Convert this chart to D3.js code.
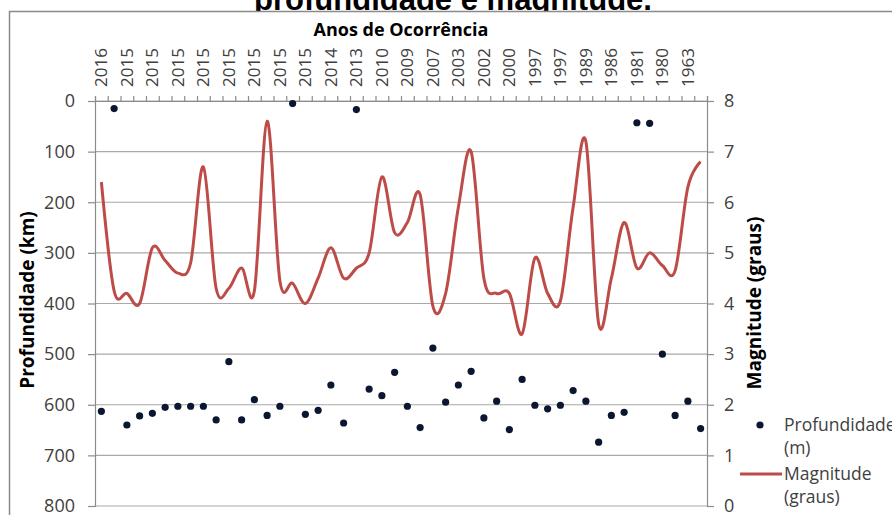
<!DOCTYPE html>
<html>
<head>
<meta charset="utf-8">
<script src="https://cdn.jsdelivr.net/npm/d3@7"></script>
<style>
  body { margin: 0; background: #fff; }
  svg text { font-family: "Open Sans", "DejaVu Sans", sans-serif; }
</style>
</head>
<body>
<svg id="chart" width="892" height="515"></svg>
<script>
'use strict';

// year labels shown on every second category (top axis)
var yearLabels = ['2016', '2015', '2015', '2015', '2015', '2015', '2015', '2015', '2015',
	'2014', '2013', '2010', '2009', '2007', '2003', '2002', '2000', '1997', '1997',
	'1989', '1986', '1981', '1980', '1963'];

// depth per event (km)
var depth = [613, 15, 640, 622, 617, 605, 603, 603, 603, 630, 515, 630, 590, 621, 603, 5,
	619, 611, 561, 636, 17, 569, 582, 536, 603, 645, 488, 595, 561, 534, 626, 593,
	649, 550, 601, 608, 601, 572, 593, 674, 621, 615, 43, 44, 500, 621, 593, 647];

// magnitude per event (graus)
var magnitude = [6.4, 4.25, 4.2, 4.0, 5.1, 4.85, 4.6, 4.8, 6.7, 4.3, 4.3, 4.7, 4.25, 7.6, 4.45, 4.4,
	4.0, 4.5, 5.1, 4.5, 4.7, 5.0, 6.5, 5.4, 5.6, 6.15, 3.95, 4.2, 5.9, 7.0, 4.5, 4.2,
	4.2, 3.4, 4.9, 4.2, 4.05, 5.9, 7.2, 3.6, 4.5, 5.6, 4.7, 5.0, 4.75, 4.65, 6.3, 6.8];

var depthTicks = [0, 100, 200, 300, 400, 500, 600, 700, 800];
var magTicks = [0, 1, 2, 3, 4, 5, 6, 7, 8];

var svg = d3.select('#chart');
var plot = { left: 95, right: 707, top: 101, bottom: 506 };
var gridColor = '#a9a9a9';
var lineColor = '#bd4c49';
var dotColor = '#0b1730';

// - title (partly cut off by the chart frame)
svg.append('text')
	.attr('x', 453).attr('y', 10)
	.attr('text-anchor', 'middle')
	.style('font-family', '"Liberation Sans", Arial, sans-serif')
	.style('font-weight', 'bold')
	.style('font-size', '31px')
	.text('profundidade e magnitude.');

svg.append('rect')
	.attr('x', 9.5).attr('y', 11.5)
	.attr('width', 900).attr('height', 520)
	.attr('fill', '#fff')
	.attr('stroke', '#8a8a8a')
	.attr('stroke-width', 1.5);

var idx = d3.range(depth.length);
var x = d3.scaleBand().domain(idx).range([plot.left, plot.right]).padding(0);
var xEdge = d3.scaleLinear().domain([0, depth.length]).range([plot.left, plot.right]);
var yDepth = d3.scaleLinear().domain([0, 800]).range([plot.top, plot.bottom]);
var yMag = d3.scaleLinear().domain([0, 8]).range([plot.bottom, plot.top]);

// gridlines
svg.append('g')
	.selectAll('line')
	.data(depthTicks)
	.join('line')
		.attr('x1', plot.left).attr('x2', plot.right)
		.attr('y1', d => yDepth(d)).attr('y2', d => yDepth(d))
		.attr('stroke', gridColor)
		.attr('stroke-width', 1.2);

// left axis
var gl = svg.append('g')
	.attr('transform', `translate(${plot.left},0)`)
	.call(d3.axisLeft(yDepth).tickValues(depthTicks).tickSize(7).tickPadding(13));

// right axis
var gr = svg.append('g')
	.attr('transform', `translate(${plot.right},0)`)
	.call(d3.axisRight(yMag).tickValues(magTicks).tickSize(7).tickPadding(10));

// top category axis: ticks at category boundaries
var gt = svg.append('g')
	.attr('transform', `translate(0,${plot.top})`)
	.call(d3.axisTop(xEdge).ticks(depth.length).tickSize(5).tickFormat(''));

var gtl = svg.append('g')
	.attr('transform', `translate(0,${plot.top})`)
	.call(d3.axisTop(x)
		.tickValues(idx.filter(i => i % 2 === 0))
		.tickSize(0)
		.tickFormat(i => yearLabels[i / 2]));

gtl.selectAll('text')
	.attr('transform', 'rotate(-90)')
	.attr('text-anchor', 'start')
	.attr('x', 14)
	.attr('y', 0)
	.attr('dy', '0.35em')
	.style('font-size', '17px');
gtl.select('.domain').remove();

[gl, gr, gt].forEach(g =>
{
	g.select('.domain').attr('stroke', '#8c8c8c').attr('stroke-width', 1.2);
	g.selectAll('.tick line').attr('stroke', '#8c8c8c').attr('stroke-width', 1.2);
});
[gl, gr].forEach(g =>
{
	g.selectAll('text').style('font-size', '18px').attr('fill', '#404040');
});
gtl.selectAll('text').attr('fill', '#404040');

// axis titles
svg.append('text')
	.attr('x', 401).attr('y', 36)
	.attr('text-anchor', 'middle')
	.style('font-weight', 'bold').style('font-size', '18px')
	.text('Anos de Ocorrência');

svg.append('text')
	.attr('transform', 'translate(34,300) rotate(-90)')
	.attr('text-anchor', 'middle')
	.style('font-weight', 'bold').style('font-size', '19px')
	.text('Profundidade (km)');

svg.append('text')
	.attr('transform', 'translate(761,303) rotate(-90)')
	.attr('text-anchor', 'middle')
	.style('font-weight', 'bold').style('font-size', '19px')
	.text('Magnitude (graus)');

// magnitude line (smoothed like the spreadsheet's line)
var line = d3.line()
	.x((d, i) => x(i) + x.bandwidth() / 2)
	.y(d => yMag(d))
	.curve(d3.curveCatmullRom.alpha(0));

svg.append('path')
	.datum(magnitude)
	.attr('d', line)
	.attr('fill', 'none')
	.attr('stroke', lineColor)
	.attr('stroke-width', 3);

// depth points
svg.append('g')
	.selectAll('circle')
	.data(depth)
	.join('circle')
		.attr('cx', (d, i) => x(i) + x.bandwidth() / 2)
		.attr('cy', d => yDepth(d))
		.attr('r', 3.6)
		.attr('fill', dotColor);

// legend
var lg = svg.append('g').style('font-size', '17.5px').attr('fill', '#404040');
lg.append('circle').attr('cx', 760).attr('cy', 425).attr('r', 3.6).attr('fill', dotColor);
lg.append('text').attr('x', 784).attr('y', 431).text('Profundidade');
lg.append('text').attr('x', 784).attr('y', 454).text('(m)');
lg.append('line')
	.attr('x1', 740).attr('x2', 782).attr('y1', 474).attr('y2', 474)
	.attr('stroke', lineColor).attr('stroke-width', 3);
lg.append('text').attr('x', 784).attr('y', 480).text('Magnitude');
lg.append('text').attr('x', 784).attr('y', 503).text('(graus)');
</script>
</body>
</html>
